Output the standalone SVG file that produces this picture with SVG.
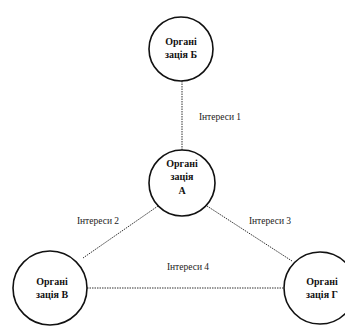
<svg xmlns="http://www.w3.org/2000/svg" width="345" height="326" viewBox="0 0 345 326">
<style>
.node{fill:#fff;stroke:#111;stroke-width:1.6}
.t{font-family:"Liberation Serif","Times New Roman",serif;font-size:10px;font-weight:bold;fill:#111;text-anchor:middle}
.lbl{font-family:"Liberation Serif","Times New Roman",serif;font-size:9.5px;fill:#222;text-anchor:middle}
.c{stroke:#333;stroke-width:1;stroke-dasharray:1.5 1;fill:none}
</style>
<rect width="345" height="326" fill="#fff"/>
<g id="connectors">
<line class="c" x1="182" y1="81" x2="182" y2="151"/>
<line class="c" x1="158" y1="206" x2="83" y2="258"/>
<line class="c" x1="207" y1="206" x2="292" y2="261"/>
<line class="c" x1="87" y1="288" x2="283" y2="288"/>
<text class="lbl" x="220" y="120">Інтереси 1</text>
<text class="lbl" x="98" y="224">Інтереси 2</text>
<text class="lbl" x="270" y="224">Інтереси 3</text>
<text class="lbl" x="188" y="270">Інтереси 4</text>
</g>
<g id="nodeB">
<circle class="node" cx="181" cy="49" r="32"/>
<text class="t" x="181" y="45">Органі</text>
<text class="t" x="181" y="58">зація Б</text>
</g>
<g id="nodeA">
<circle class="node" cx="182" cy="183" r="33"/>
<text class="t" x="182" y="167">Органі</text>
<text class="t" x="182" y="180">зація</text>
<text class="t" x="182" y="194">А</text>
</g>
<g id="nodeV">
<circle class="node" cx="50" cy="288" r="37"/>
<text class="t" x="52" y="285">Органі</text>
<text class="t" x="52" y="298">зація В</text>
</g>
<g id="nodeG">
<circle class="node" cx="320" cy="288" r="36"/>
<text class="t" x="322" y="285">Органі</text>
<text class="t" x="322" y="298">зація Г</text>
</g>
</svg>
